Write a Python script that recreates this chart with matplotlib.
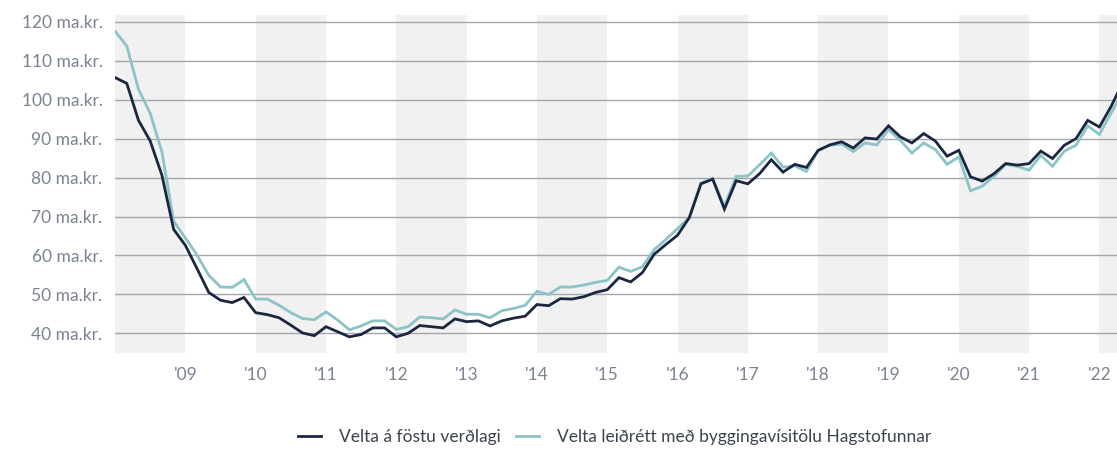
import matplotlib
matplotlib.use("Agg")
import matplotlib.pyplot as plt
import numpy as np

# Bimonthly values starting Jan 2008
velta_fast = [105.7, 104.2, 94.7, 89.4, 80.6, 66.7, 62.6, 56.6, 50.5, 48.5, 47.9, 49.2,
              45.3, 44.8, 44.0, 42.1, 40.1, 39.4, 41.7, 40.4, 39.1, 39.7, 41.4, 41.4,
              39.1, 40.0, 42.0, 41.7, 41.4, 43.7, 43.0, 43.2, 41.9, 43.2, 43.9, 44.4,
              47.4, 47.1, 48.9, 48.8, 49.4, 50.5, 51.2, 54.3, 53.2, 55.6, 60.3, 62.8,
              65.2, 69.7, 78.4, 79.6, 71.9, 79.2, 78.4, 81.0, 84.6, 81.4, 83.4, 82.6,
              87.0, 88.4, 89.2, 87.6, 90.2, 89.9, 93.3, 90.5, 88.9, 91.3, 89.4, 85.5,
              87.0, 80.2, 79.1, 81.0, 83.6, 83.2, 83.6, 86.8, 84.9, 88.3, 90.0, 94.7,
              93.0, 98.3, 104.5]
velta_leidrett = [117.6, 113.8, 102.7, 96.5, 86.6, 68.8, 64.5, 60.1, 54.9, 51.9, 51.8, 53.8,
                  48.8, 48.8, 47.2, 45.3, 43.8, 43.5, 45.5, 43.4, 40.9, 41.9, 43.2, 43.2,
                  41.0, 41.7, 44.2, 44.0, 43.7, 46.0, 44.9, 44.9, 44.0, 45.8, 46.4, 47.2,
                  50.8, 50.0, 51.9, 51.9, 52.4, 53.1, 53.6, 57.0, 55.9, 57.1, 61.5, 64.1,
                  66.9, 69.7, 78.6, 79.8, 72.6, 80.3, 80.4, 83.3, 86.3, 82.7, 83.0, 81.6,
                  87.0, 88.3, 88.6, 86.7, 88.9, 88.4, 92.3, 89.6, 86.3, 88.9, 87.2, 83.4,
                  85.3, 76.6, 77.8, 80.3, 83.4, 82.9, 81.9, 85.7, 82.9, 86.8, 88.3, 93.3,
                  91.1, 96.6, 102.1]
start_year = 2008
periods_per_year = 6
year_labels = ["'09", "'10", "'11", "'12", "'13", "'14", "'15", "'16", "'17", "'18",
               "'19", "'20", "'21", "'22"]
y_ticks = [40, 50, 60, 70, 80, 90, 100, 110, 120]
series_names = ["Velta á föstu verðlagi",
                "Velta leiðrétt með byggingavísitölu Hagstofunnar"]

plt.rcParams['font.family'] = ['Lato', 'DejaVu Sans']

fig = plt.figure(figsize=(11.17, 4.5), dpi=100)
ax = fig.add_axes([0.103, 0.216, 0.897, 0.751])

x = np.arange(len(velta_fast)) / periods_per_year + start_year
x_right = start_year + 85.5 / periods_per_year
ax.set_xlim(start_year, x_right)
ax.set_ylim(35.0, 121.8)

# alternating shaded years
for yr in range(start_year, 2023, 2):
    ax.axvspan(yr, yr + 1, color='#f1f1f1', lw=0, zorder=0)

for yv in y_ticks:
    ax.axhline(yv, color='#a3a7ad', lw=1.0, zorder=1)

l1, = ax.plot(x, velta_fast, color='#1b2741', lw=2.0, zorder=3, solid_joinstyle='miter')
l2, = ax.plot(x, velta_leidrett, color='#8cc3c7', lw=2.0, zorder=2, solid_joinstyle='miter')

ax.set_yticks(y_ticks)
ax.set_yticklabels([f"{v} ma.kr." for v in y_ticks])
ax.set_xticks(list(range(2009, 2023)))
ax.set_xticklabels(year_labels)
ax.tick_params(axis='both', length=0, labelsize=12.5, colors='#7b8291')
ax.tick_params(axis='y', pad=9)
ax.tick_params(axis='x', pad=10)
for s in ax.spines.values():
    s.set_visible(False)

fig.legend([l1, l2], series_names, loc='center', bbox_to_anchor=(0.55, 0.028),
           ncol=2, frameon=False, fontsize=12.5, handlelength=1.35, handletextpad=1.0,
           columnspacing=0.9, labelcolor='#3c4250')

fig.savefig("out.png", dpi=100)
